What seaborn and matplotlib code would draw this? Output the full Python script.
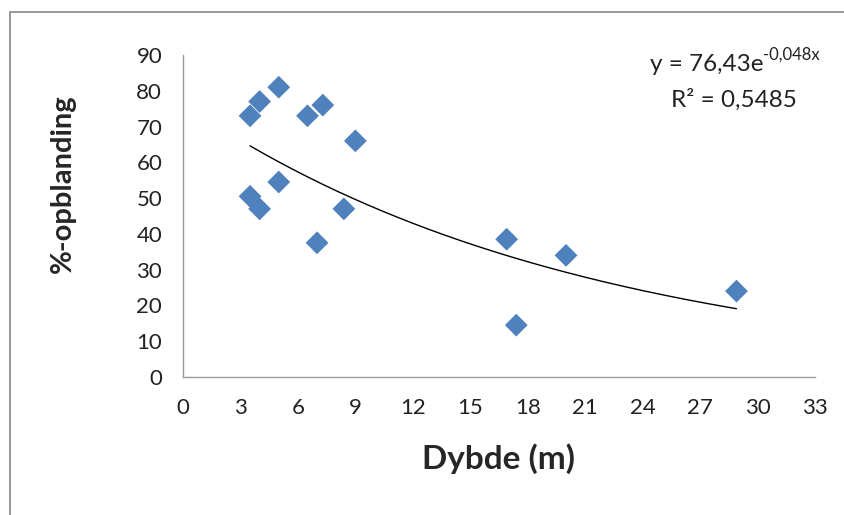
import numpy as np
import seaborn as sns
import matplotlib.pyplot as plt
from matplotlib.patches import Rectangle

# data
depth = [3.5, 4.0, 5.0, 6.5, 7.3, 9.0, 3.5, 4.0, 5.0, 7.0, 8.4, 16.9, 17.4, 20.0, 28.9]
mixing = [73, 77, 81, 73, 76, 66, 50.5, 47, 54.5, 37.5, 47, 38.5, 14.5, 34, 24]
fit_a = 76.43
fit_b = -0.048
x_ticks = [0, 3, 6, 9, 12, 15, 18, 21, 24, 27, 30, 33]
y_ticks = [0, 10, 20, 30, 40, 50, 60, 70, 80, 90]

sns.set_style("white")
plt.rcParams['font.family'] = ['Lato', 'DejaVu Sans']

fig = plt.figure(figsize=(8.44, 5.15), dpi=100)
ax = fig.add_axes([183 / 844, 1 - 377 / 515, 632 / 844, 322 / 515])

# outer chart border (cut off at right and bottom)
fig.patches.append(Rectangle((10 / 844, -0.1), 2, 1 - 12 / 515 + 0.1,
                             transform=fig.transFigure, fill=False,
                             edgecolor="#888888", linewidth=1.2))

sns.scatterplot(x=depth, y=mixing, marker="D", s=135, color="#4F81BD",
                edgecolor="none", ax=ax, zorder=3)

xf = np.linspace(min(depth), max(depth), 200)
ax.plot(xf, fit_a * np.exp(fit_b * xf), color="black", linewidth=1)

ax.set_xlim(0, 33)
ax.set_ylim(0, 90)
ax.set_xticks(x_ticks)
ax.set_yticks(y_ticks)
ax.tick_params(length=0, labelsize=16, colors="#222222", pad=15)
for s in ["top", "right"]:
    ax.spines[s].set_visible(False)
for s in ["left", "bottom"]:
    ax.spines[s].set_color("#999999")
    ax.spines[s].set_linewidth(1)

ax.set_xlabel("Dybde (m)", fontsize=24, fontweight="bold", labelpad=18)
ax.set_ylabel("%-opblanding", fontsize=21, fontweight="bold")
ax.yaxis.set_label_coords(-0.17, 0.6)

eq = fig.text(650 / 844, 1 - 65 / 515, "y = 76,43e", fontsize=17.5,
              ha="left", va="center", color="#222222")
ax.annotate("-0,048x", xy=(1.0, 0.62), xycoords=eq, fontsize=12,
            ha="left", va="bottom", color="#222222", annotation_clip=False)
fig.text(734 / 844, 1 - 100 / 515, "R² = 0,5485", fontsize=17.5,
         ha="center", va="center", color="#222222")

fig.savefig("out.png", dpi=100)
